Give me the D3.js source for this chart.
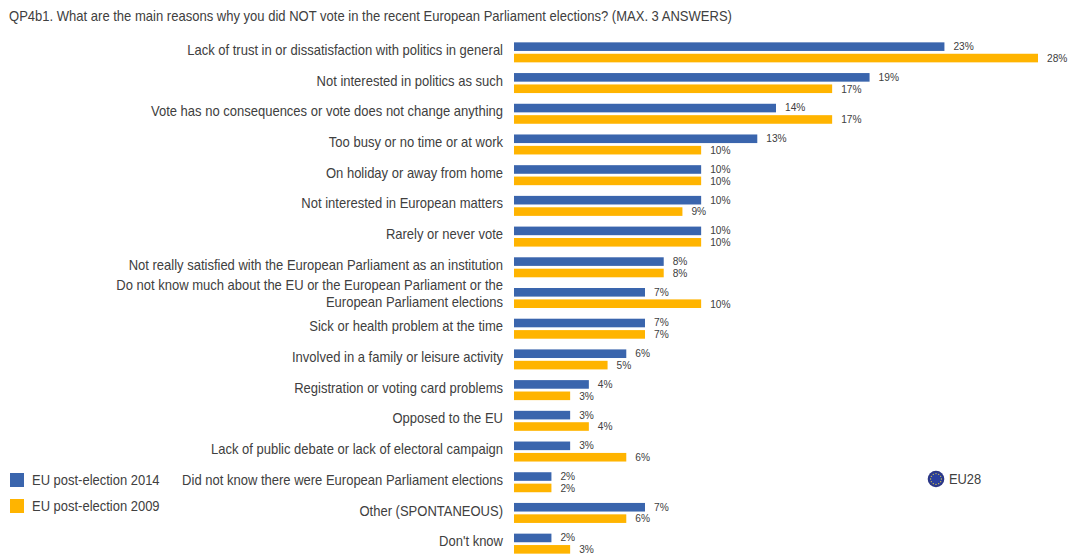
<!DOCTYPE html>
<html><head><meta charset="utf-8">
<script src="https://cdn.jsdelivr.net/npm/d3@7"></script>
<style>html,body{margin:0;padding:0;background:#fff}svg{display:block}text{font-family:"Liberation Sans",Arial,sans-serif;fill:#404040}</style>
</head><body><svg id="c" width="1073" height="554"></svg>
<script>
const titleText = "QP4b1. What are the main reasons why you did NOT vote in the recent European Parliament elections? (MAX. 3 ANSWERS)";
const categories = [
 ["Lack of trust in or dissatisfaction with politics in general"],
 ["Not interested in politics as such"],
 ["Vote has no consequences or vote does not change anything"],
 ["Too busy or no time or at work"],
 ["On holiday or away from home"],
 ["Not interested in European matters"],
 ["Rarely or never vote"],
 ["Not really satisfied with the European Parliament as an institution"],
 ["Do not know much about the EU or the European Parliament or the","European Parliament elections"],
 ["Sick or health problem at the time"],
 ["Involved in a family or leisure activity"],
 ["Registration or voting card problems"],
 ["Opposed to the EU"],
 ["Lack of public debate or lack of electoral campaign"],
 ["Did not know there were European Parliament elections"],
 ["Other (SPONTANEOUS)"],
 ["Don't know"]
];
const series2014 = [23,19,14,13,10,10,10,8,7,7,6,4,3,3,2,7,2];
const series2009 = [28,17,17,10,10,9,10,8,10,7,5,3,4,6,2,6,3];
const seriesNames = ["EU post-election 2014","EU post-election 2009"];
const seriesColors = ["#3a65ad","#ffb400"];
const regionLabel = "EU28";

const svg = d3.select("#c");
const x = d3.scaleLinear().domain([0,28]).range([514,1038]);
const y = d3.scaleBand().domain(d3.range(categories.length)).range([37,559]).padding(0);
const sub = d3.scalePoint().domain([0,1]).range([-5.7,5.7]);
const barH = 8.6;
const squeezed = (sel,px,py,sx)=>sel.attr("transform",`translate(${px},${py}) scale(${sx},1)`);

squeezed(svg.append("text").attr("font-size",14).text(titleText),9,21,0.931);

const rows = svg.selectAll("g.row").data(categories).join("g").attr("class","row")
  .attr("transform",(d,i)=>`translate(0,${y(i)+y.bandwidth()/2})`);

rows.each(function(lines){
  const g = d3.select(this);
  const base = lines.length>1 ? -8 : 2.6;
  lines.forEach((l,k)=>squeezed(g.append("text").attr("text-anchor","end").attr("font-size",14).text(l),503,base+k*17,0.93));
});

[series2014,series2009].forEach((vals,s)=>{
  rows.append("rect").attr("x",x(0)).attr("y",sub(s)-barH/2)
    .attr("width",(d,i)=>x(vals[i])-x(0)).attr("height",barH).attr("fill",seriesColors[s]);
  rows.append("text").attr("font-size",10.4)
    .attr("transform",(d,i)=>`translate(${x(vals[i])+9},${sub(s)+(s==0?3.4:3.8)}) scale(0.98,1)`)
    .text((d,i)=>vals[i]+"%");
});

seriesNames.forEach((n,i)=>{
  const yy = 480+i*26;
  svg.append("rect").attr("x",10).attr("y",yy-7).attr("width",14).attr("height",14).attr("fill",seriesColors[i]);
  squeezed(svg.append("text").attr("font-size",14).text(n),32,yy+5,0.927);
});

const defs = svg.append("defs");
const gr = defs.append("radialGradient").attr("id","flag");
gr.append("stop").attr("offset","55%").attr("stop-color","#2a3f9e");
gr.append("stop").attr("offset","100%").attr("stop-color","#2a3480");
const fx=936, fy=479;
svg.append("circle").attr("cx",fx).attr("cy",fy).attr("r",8.3).attr("fill","url(#flag)");
d3.range(12).forEach(i=>{
  const a=i/12*2*Math.PI;
  svg.append("circle").attr("cx",fx+5.4*Math.cos(a)).attr("cy",fy+5.4*Math.sin(a)).attr("r",0.65).attr("fill","#d8c84a");
});
squeezed(svg.append("text").attr("font-size",14).text(regionLabel),949,484,0.92);
</script></body></html>
